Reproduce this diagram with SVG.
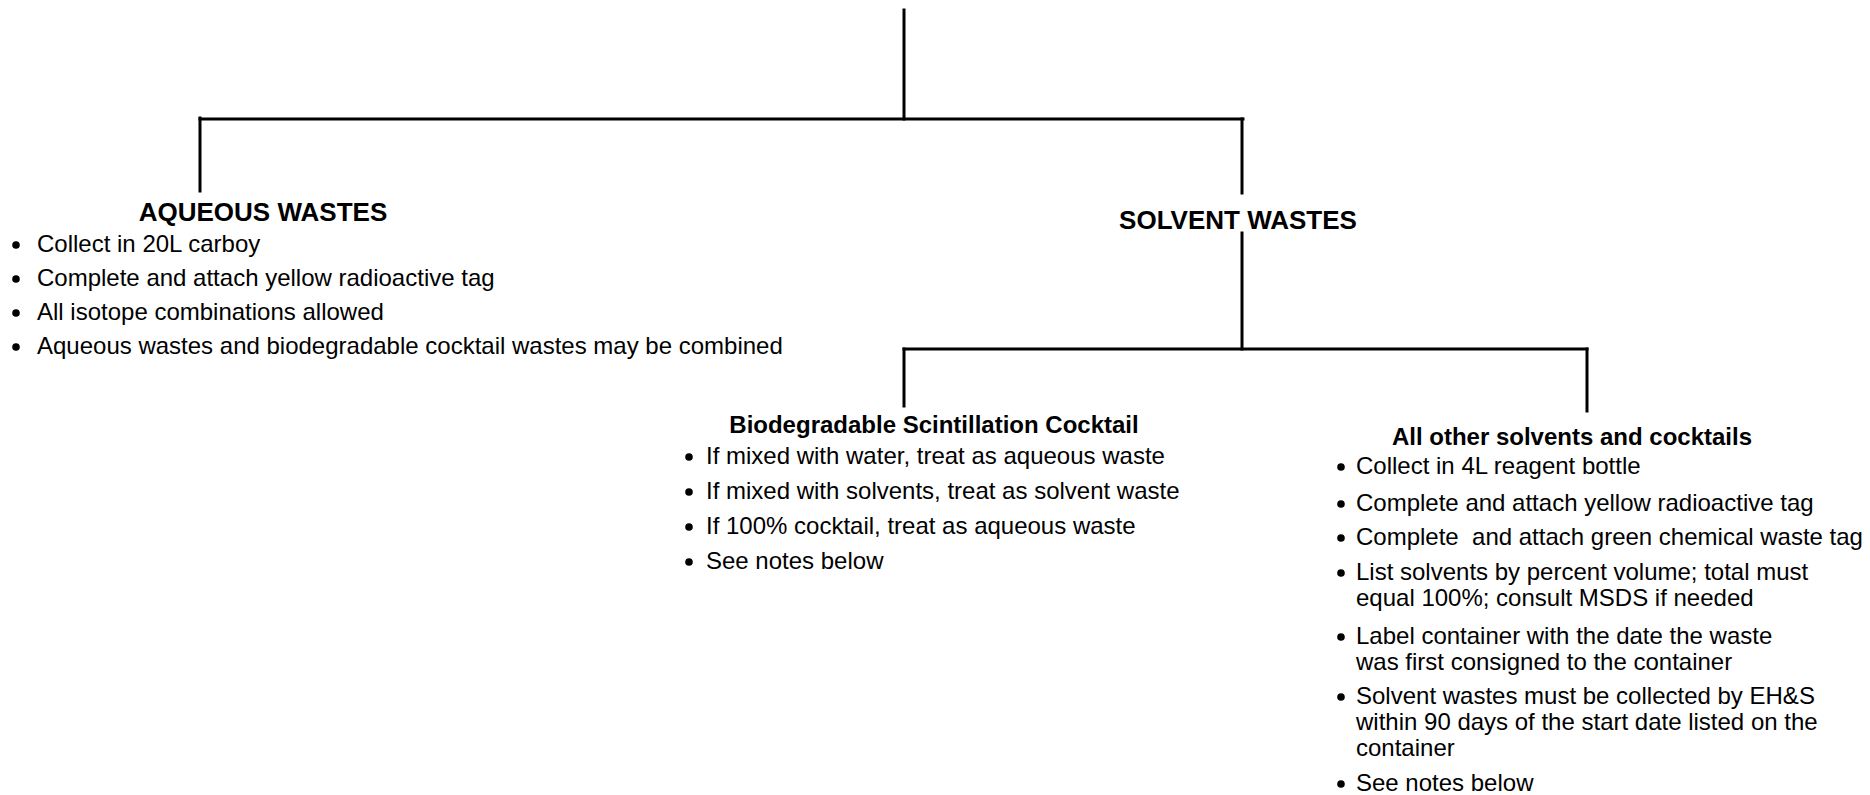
<svg xmlns="http://www.w3.org/2000/svg" width="1870" height="795" viewBox="0 0 1870 795">
<style>
.ln{stroke:#000;stroke-width:3;fill:none;stroke-linecap:square}
.t{font-family:"Liberation Sans",Arial,sans-serif;font-size:24px;fill:#000}
.h{font-family:"Liberation Sans",Arial,sans-serif;font-size:26px;font-weight:bold;fill:#000;text-anchor:middle}
.hs{font-family:"Liberation Sans",Arial,sans-serif;font-size:24px;font-weight:bold;fill:#000;text-anchor:middle}
.b{fill:#000}
</style>
<defs>
<clipPath id="clipR"><rect x="1300" y="400" width="517" height="395"/></clipPath>
</defs>
<rect width="1870" height="795" fill="#fff"/>
<g id="connectors">
<line class="ln" x1="904" y1="10" x2="904" y2="119"/>
<line class="ln" x1="200" y1="119" x2="1243" y2="119"/>
<line class="ln" x1="200" y1="118" x2="200" y2="191"/>
<line class="ln" x1="1242" y1="119" x2="1242" y2="193"/>
<line class="ln" x1="1242" y1="233" x2="1242" y2="349"/>
<line class="ln" x1="904" y1="349" x2="1587" y2="349"/>
<line class="ln" x1="904" y1="349" x2="904" y2="406"/>
<line class="ln" x1="1587" y1="349" x2="1587" y2="411"/>
</g>
<g id="aqueous">
<text class="h" x="263" y="221">AQUEOUS WASTES</text>
<circle class="b" cx="16" cy="245" r="3.8"/><text class="t" x="37" y="252">Collect in 20L carboy</text>
<circle class="b" cx="16" cy="279" r="3.8"/><text class="t" x="37" y="286">Complete and attach yellow radioactive tag</text>
<circle class="b" cx="16" cy="313" r="3.8"/><text class="t" x="37" y="320">All isotope combinations allowed</text>
<circle class="b" cx="16" cy="347" r="3.8"/><text class="t" x="37" y="354">Aqueous wastes and biodegradable cocktail wastes may be combined</text>
</g>
<g id="solvent">
<text class="h" x="1238" y="229">SOLVENT WASTES</text>
</g>
<g id="biodegradable">
<text class="hs" x="934" y="433">Biodegradable Scintillation Cocktail</text>
<circle class="b" cx="689" cy="457" r="3.8"/><text class="t" x="706" y="464">If mixed with water, treat as aqueous waste</text>
<circle class="b" cx="689" cy="492" r="3.8"/><text class="t" x="706" y="499">If mixed with solvents, treat as solvent waste</text>
<circle class="b" cx="689" cy="527" r="3.8"/><text class="t" x="706" y="534">If 100% cocktail, treat as aqueous waste</text>
<circle class="b" cx="689" cy="562" r="3.8"/><text class="t" x="706" y="569">See notes below</text>
</g>
<g id="other">
<text class="hs" x="1572" y="445">All other solvents and cocktails</text>
<circle class="b" cx="1341" cy="467" r="3.8"/><text class="t" x="1356" y="474">Collect in 4L reagent bottle</text>
<circle class="b" cx="1341" cy="504" r="3.8"/><text class="t" x="1356" y="511">Complete and attach yellow radioactive tag</text>
<circle class="b" cx="1341" cy="538" r="3.8"/><text class="t" x="1356" y="545" xml:space="preserve" style="white-space:pre">Complete  and attach green chemical waste tag</text>
<circle class="b" cx="1341" cy="573" r="3.8"/><text class="t" x="1356" y="580">List solvents by percent volume; total must</text>
<text class="t" x="1356" y="606">equal 100%; consult MSDS if needed</text>
<circle class="b" cx="1341" cy="637" r="3.8"/><text class="t" x="1356" y="644">Label container with the date the waste</text>
<text class="t" x="1356" y="670">was first consigned to the container</text>
<circle class="b" cx="1341" cy="697" r="3.8"/><text class="t" x="1356" y="704">Solvent wastes must be collected by EH&amp;S</text>
<text class="t" x="1356" y="730" clip-path="url(#clipR)">within 90 days of the start date listed on the</text>
<text class="t" x="1356" y="756">container</text>
<circle class="b" cx="1341" cy="784" r="3.8"/><text class="t" x="1356" y="791">See notes below</text>
</g>
</svg>
